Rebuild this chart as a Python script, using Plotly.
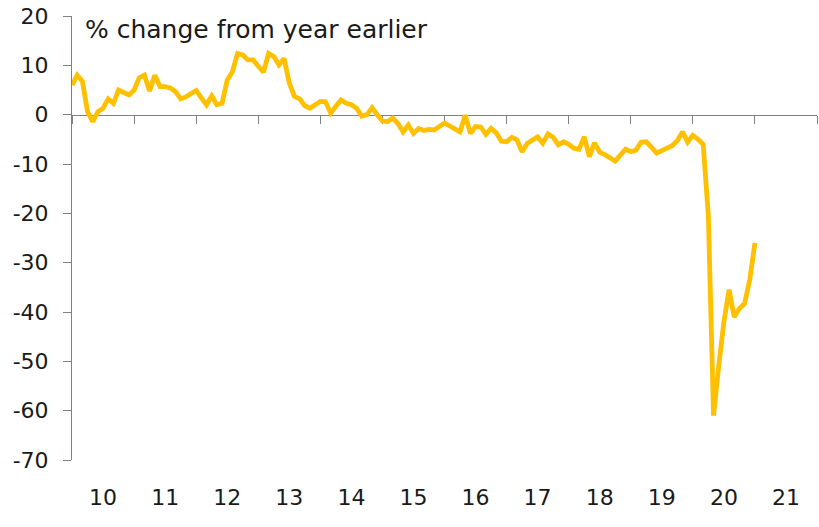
import plotly.graph_objects as go

# Monthly % change from year earlier, Jan 2010 - Jan 2021
values = [
    6.0, 8.0, 6.8, 0.6, -1.4, 0.6, 1.3, 3.2, 2.3, 5.0, 4.5, 4.0,
    5.0, 7.5, 8.0, 4.8, 8.0, 5.7, 5.7, 5.4, 4.7, 3.2, 3.6, 4.2,
    4.9, 3.4, 2.0, 3.8, 2.0, 2.3, 7.0, 8.7, 12.4, 12.1, 11.1, 11.1,
    9.7, 8.6, 12.4, 11.8, 10.1, 11.4, 6.4, 3.7, 3.2, 1.8, 1.3, 2.0,
    2.7, 2.6, 0.3, 1.7, 3.0, 2.3, 2.0, 1.3, -0.3, 0.0, 1.4, 0.0,
    -1.3, -1.4, -0.7, -1.8, -3.5, -2.1, -3.8, -2.8, -3.2, -3.0, -3.1, -2.4,
    -1.7, -2.3, -2.8, -3.5, -0.1, -3.8, -2.4, -2.5, -4.0, -2.8, -3.7, -5.4,
    -5.5, -4.6, -5.1, -7.5, -5.8, -5.2, -4.5, -5.8, -3.9, -4.6, -6.1, -5.5,
    -6.0, -6.8, -7.0, -4.5, -8.5, -5.7, -7.6, -8.1, -8.8, -9.4, -8.2, -7.0,
    -7.5, -7.2, -5.6, -5.5, -6.6, -7.8, -7.3, -6.8, -6.3, -5.3, -3.5, -5.6,
    -4.2, -5.0, -6.0, -20.5, -61.0, -51.0, -42.0, -35.5, -41.0, -39.3, -38.3, -33.5,
    -26.0,
]
months = list(range(len(values)))  # months since Jan 2010

year_labels = ["10", "11", "12", "13", "14", "15", "16", "17", "18", "19", "20", "21"]
year_starts = [12 * k for k in range(len(year_labels) + 1)]
year_mids = [12 * k + 6 for k in range(len(year_labels))]
y_ticks = [20, 10, 0, -10, -20, -30, -40, -50, -60, -70]
y_labels = [str(v) for v in y_ticks]  # plain hyphen for negatives

font = "DejaVu Sans"
axis_col = "#808080"

fig = go.Figure()
# main series (bottom axis carries the year labels)
fig.add_trace(go.Scatter(
    x=months, y=values, mode="lines", xaxis="x", yaxis="y",
    line=dict(color="#FFC000", width=4.8), hoverinfo="skip", showlegend=False,
))
# transparent copy so the zero-line axis with year ticks is rendered
fig.add_trace(go.Scatter(
    x=months, y=values, mode="lines", xaxis="x2", yaxis="y",
    line=dict(color="rgba(0,0,0,0)", width=0), hoverinfo="skip", showlegend=False,
))

fig.update_layout(
    width=819, height=527,
    margin=dict(l=72, r=2, t=16, b=67),
    paper_bgcolor="white", plot_bgcolor="white",
    font=dict(family=font, size=22, color="#1a1a1a"),
    xaxis=dict(
        range=[0, 144], tickvals=year_mids, ticktext=year_labels,
        ticks="", showline=False, showgrid=False, zeroline=False,
        ticklabelstandoff=22,
    ),
    xaxis2=dict(
        range=[0, 144], overlaying="x", anchor="free", position=70 / 90,
        side="bottom", tickvals=year_starts, showticklabels=False,
        ticks="outside", ticklen=8, tickwidth=1, tickcolor=axis_col,
        showline=True, linecolor=axis_col, linewidth=1,
        showgrid=False, zeroline=False, layer="below traces",
    ),
    yaxis=dict(
        range=[-70, 20], tickvals=y_ticks, ticktext=y_labels,
        ticks="outside", ticklen=8,
        tickwidth=1, tickcolor=axis_col, showline=True, linecolor=axis_col,
        linewidth=1, showgrid=False, zeroline=False, ticklabelstandoff=10,
    ),
    annotations=[dict(
        text="% change from year earlier", xref="paper", yref="paper",
        x=0.0148, y=0.9707, xanchor="left", yanchor="middle",
        showarrow=False, font=dict(family=font, size=25, color="#1a1a1a"),
    )],
)

fig.write_html("out.html")
